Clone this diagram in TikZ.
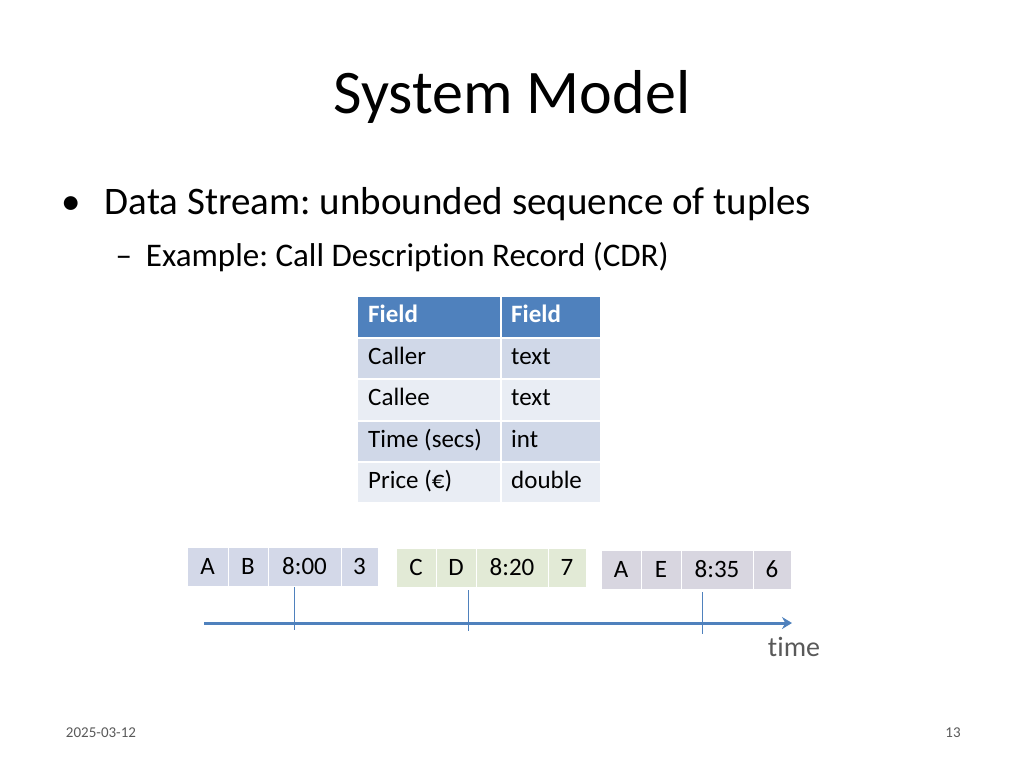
\documentclass[tikz,border=0pt]{standalone}
\usepackage{fontspec}
\setmainfont{Carlito}[Ligatures=NoCommon]
\frenchspacing
\usetikzlibrary{arrows.meta}
\definecolor{hdr}{HTML}{4F81BD}
\definecolor{rodd}{HTML}{D0D8E8}
\definecolor{reven}{HTML}{E9EDF4}
\definecolor{tA}{HTML}{D3D8E8}
\definecolor{tB}{HTML}{E2EAD6}
\definecolor{tC}{HTML}{D8D6E0}
\begin{document}
\begin{tikzpicture}[x=1pt,y=-1pt,
  tab/.style={font=\fontsize{25}{30}\selectfont,text=black,anchor=west,text height=17pt,text depth=5pt,inner sep=0pt},
  tup/.style={draw=white,line width=1pt,font=\fontsize{25}{30}\selectfont,inner sep=0pt}]
\useasboundingbox (0,0) rectangle (1024,768);
\node (title) at (512,97) {\fontsize{62}{70}\selectfont System Model};
\node[anchor=west] (b1) at (58,204) {\fontsize{39}{44}\selectfont •\hspace{24pt}Data Stream: unbounded sequence of tuples};
\node[anchor=west] (b2) at (112,257) {\fontsize{33}{38}\selectfont –\hspace{14pt}Example: Call Description Record (CDR)};
% table
\foreach \y/\h/\a/\b/\c [count=\i] in {296/41/Field/Field/hdr,338/40/Caller/text/rodd,379/41/Callee/text/reven,421/40/Time (secs)/int/rodd,462/40/Price (€)/double/reven}{
  \fill[\c] (358,\y) rectangle (600,\y+\h);
  \draw[white,line width=1.5pt] (358,\y) -- (600,\y);
  \ifnum\i=1
    \node[tab,text=white,font=\fontsize{25}{30}\selectfont\bfseries] (ta\i) at (368,\y+\h/2) {\a};
    \node[tab,text=white,font=\fontsize{25}{30}\selectfont\bfseries] (tb\i) at (511,\y+\h/2) {\b};
  \else
    \node[tab] (ta\i) at (368,\y+\h/2) {\a};
    \node[tab] (tb\i) at (511,\y+\h/2) {\b};
  \fi
}
\draw[white,line width=1.5pt] (501,296) -- (501,502);
% tuples
\foreach \n/\col/\y/\xa/\xb/\xc/\xd/\xe/\ta/\tb/\tc/\td in {
  1/tA/547/187/228/268/341/378/A/B/8:00/3,
  2/tB/548/396/436/476/548/586/C/D/8:20/7,
  3/tC/550/601/641/681/753/791/A/E/8:35/6}{
  \node[tup,fill=\col,minimum height=39pt,minimum width=\xb-\xa] (p\n a) at ({(\xa+\xb)/2},\y+19.5) {\ta};
  \node[tup,fill=\col,minimum height=39pt,minimum width=\xc-\xb] (p\n b) at ({(\xb+\xc)/2},\y+19.5) {\tb};
  \node[tup,fill=\col,minimum height=39pt,minimum width=\xd-\xc] (p\n c) at ({(\xc+\xd)/2},\y+19.5) {\tc};
  \node[tup,fill=\col,minimum height=39pt,minimum width=\xe-\xd] (p\n d) at ({(\xd+\xe)/2},\y+19.5) {\td};
}
\coordinate (s) at (204,623);
\coordinate (e) at (792,623);
\draw[hdr,line width=3pt,-{Stealth[length=10pt,width=12pt]}] (s) -- (e);
\draw[hdr,line width=0.8pt] (294,587) -- (294,630);
\draw[hdr,line width=0.8pt] (468,590) -- (468,631);
\draw[hdr,line width=0.8pt] (702,592) -- (702,634);
\node[text=black!65] (time) at (794,647) {\fontsize{28}{32}\selectfont time};
\node[text=black!65] (date) at (101,733) {\fontsize{15}{17}\selectfont 2025-03-12};
\node[text=black!65] (pg) at (953,733) {\fontsize{15}{17}\selectfont 13};
\end{tikzpicture}
\end{document}
